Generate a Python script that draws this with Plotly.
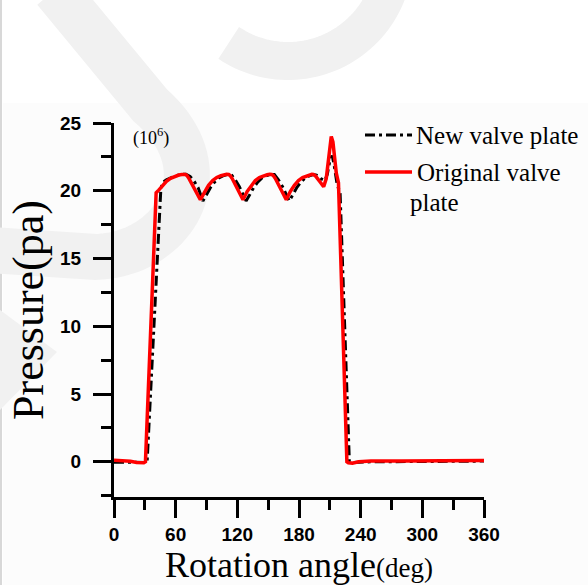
import numpy as np
import plotly.graph_objects as go

# ---- data: pressure (x10^6 Pa) against shaft rotation angle (deg) ----
new_angle = [0, 15, 25, 30, 32.2, 45.5, 47, 51, 55, 60, 65, 70, 74, 78, 82, 86.5,
             90, 94, 98, 102, 106, 110, 114, 118, 122, 128.5,
             132, 136, 140, 144, 148, 152, 156, 160, 164, 170.5,
             174, 178, 182, 186, 190, 194, 197, 201, 205, 207.5, 210, 212.2,
             214, 217, 220, 224.5, 229, 233, 250, 300, 360]
new_pressure = [-0.03, -0.05, -0.08, -0.1, -0.05, 20.0, 20.6, 20.8, 20.95, 21.1, 21.2, 21.22, 21.05, 20.7, 20.2, 19.25,
                19.7, 20.25, 20.65, 20.95, 21.1, 21.2, 21.2, 20.8, 20.3, 19.25,
                19.7, 20.25, 20.65, 20.95, 21.1, 21.2, 21.2, 20.8, 20.3, 19.25,
                19.7, 20.25, 20.65, 20.95, 21.1, 21.2, 21.15, 20.9, 20.75, 21.2, 22.2, 22.6,
                22.0, 20.5, 19.8, 10.5, 0.0, -0.05, 0.0, 0.02, 0.05]

orig_angle = [0, 8, 16, 22, 27, 29, 30.6, 41.0, 43.5, 47, 51, 55, 59, 63, 66, 68, 69.5, 71, 73, 84,
              88, 92, 96, 100, 104, 107, 109.5, 111.6, 113, 115, 125.5,
              129.5, 133.5, 137.5, 141.5, 145.5, 149, 151.5, 153.5, 155, 157, 167.6,
              171.5, 175.5, 179.5, 183.5, 187.5, 190.5, 192.5, 194, 196, 200, 204,
              206.5, 208.5, 210.2, 211.4, 213, 214.3, 216.3, 218.4, 222.5, 226.6,
              228, 232, 238, 250, 280, 320, 360]
orig_pressure = [0.12, 0.1, 0.04, -0.06, -0.1, -0.08, 0.0, 19.85, 20.05, 20.4, 20.7, 20.92, 21.07, 21.16, 21.2, 21.22, 21.2, 21.12, 20.9, 19.34,
                 19.94, 20.4, 20.75, 20.98, 21.11, 21.18, 21.21, 21.2, 21.12, 20.9, 19.34,
                 19.94, 20.4, 20.75, 20.98, 21.11, 21.18, 21.21, 21.2, 21.12, 20.9, 19.34,
                 19.94, 20.4, 20.75, 20.98, 21.11, 21.18, 21.21, 21.2, 21.1, 20.7, 20.3,
                 20.9, 22.2, 23.6, 24.0, 23.6, 22.4, 21.3, 20.6, 10.3, 0.0,
                 -0.08, -0.1, 0.0, 0.05, 0.06, 0.08, 0.1]

series_names = ["New valve plate", "Original valve plate"]
x_ticks = [0, 60, 120, 180, 240, 300, 360]
y_ticks = [0, 5, 10, 15, 20, 25]

# ---- page geometry ----
W, H = 588, 585
ML, MR, MT, MB = 114, 104, 123, 88
PW, PH = W - ML - MR, H - MT - MB


def px(x, y):
    """Page pixel -> paper coordinates."""
    return (x - ML) / PW, (H - MB - y) / PH


def path_from(points):
    pts = [px(x, y) for x, y in points]
    return "M " + " L ".join(f"{a:.5f},{b:.5f}" for a, b in pts)


SERIF = "Liberation Serif, Times New Roman, serif"
SANS = "Liberation Sans, Arial, sans-serif"

fig = go.Figure()
fig.add_trace(go.Scatter(
    x=new_angle, y=new_pressure, mode="lines", name=series_names[0],
    line=dict(color="black", width=3, dash="10px,4px,3px,4px"),
))
fig.add_trace(go.Scatter(
    x=orig_angle, y=orig_pressure, mode="lines", name=series_names[1],
    line=dict(color="#ff0000", width=3.5),
))

shapes = []
# faint page tint and left page edge
x0, y0 = px(3, 103)
x1, y1 = px(W, H)
shapes.append(dict(type="rect", xref="paper", yref="paper", x0=x0, y0=y0, x1=x1, y1=y1,
                   fillcolor="#fcfcfc", line=dict(width=0), layer="below"))
a0, b0 = px(1, 0)
a1, b1 = px(1, H)
shapes.append(dict(type="line", xref="paper", yref="paper", x0=a0, y0=b0, x1=a1, y1=b1,
                   line=dict(color="#d8d8d8", width=2), layer="below"))

# faint background emblem strokes
t = np.linspace(0, 1, 40)
p0, c1, c2, p3 = np.array([150, 105]), np.array([225, 170]), np.array([175, 255]), np.array([95, 257])
curve = ((1 - t) ** 3)[:, None] * p0 + (3 * (1 - t) ** 2 * t)[:, None] * c1 \
    + (3 * (1 - t) * t ** 2)[:, None] * c2 + (t ** 3)[:, None] * p3
stroke1 = [(55, -10)] + [tuple(p) for p in curve] + [(-10, 250)]
shapes.append(dict(type="path", xref="paper", yref="paper", path=path_from(stroke1),
                   line=dict(color="#f1f1f1", width=46), layer="below"))
ang = np.radians(np.linspace(124, -15, 60))
arc = [(288 + 106 * np.cos(a), -45 + 106 * np.sin(a)) for a in ang]
shapes.append(dict(type="path", xref="paper", yref="paper", path=path_from(arc),
                   line=dict(color="#f1f1f1", width=38), layer="below"))
shapes.append(dict(type="path", xref="paper", yref="paper",
                   path=path_from([(0, 310), (57, 352), (0, 410)]) + " Z",
                   fillcolor="#f1f1f1", line=dict(width=0), layer="below"))

# legend samples
for (xa, xb, yy), col, dash, w in [((365, 412, 135), "black", "10px,4px,3px,4px", 3),
                                   ((365, 412, 172), "#ff0000", "solid", 3.5)]:
    u0, v0 = px(xa, yy)
    u1, _ = px(xb, yy)
    shapes.append(dict(type="line", xref="paper", yref="paper", x0=u0, y0=v0, x1=u1, y1=v0,
                       line=dict(color=col, width=w, dash=dash)))

annotations = []
for text, (x, y), size in [(series_names[0], (414, 135), 25),
                           ("Original valve", (415, 172), 25),
                           ("plate", (408, 202), 25),
                           ("(10<sup>6</sup>)", (131, 137), 18)]:
    ax, ay = px(x, y)
    annotations.append(dict(text=text, x=ax, y=ay, xref="paper", yref="paper",
                            xanchor="left", yanchor="middle", showarrow=False,
                            font=dict(family=SERIF, size=size, color="black")))

axis_common = dict(
    showline=True, linecolor="black", linewidth=3, mirror=False,
    showgrid=False, zeroline=False,
    ticks="outside", ticklen=18, tickwidth=3, tickcolor="black",
    tickfont=dict(family=SANS, size=19, color="black", weight="bold"),
)

fig.update_layout(
    width=W, height=H,
    margin=dict(l=ML, r=MR, t=MT, b=MB, pad=0),
    paper_bgcolor="white", plot_bgcolor="rgba(0,0,0,0)",
    showlegend=False,
    shapes=shapes, annotations=annotations,
    xaxis=dict(range=[0, 360], tickvals=x_ticks,
               minor=dict(dtick=30, tick0=0, ticks="outside", ticklen=10, tickwidth=3, tickcolor="black"),
               title=dict(text="Rotation angle<span style='font-size:27px'>(deg)</span>",
                          font=dict(family=SERIF, size=36, color="black"), standoff=4),
               **axis_common),
    yaxis=dict(range=[-2.6, 25], tickvals=y_ticks, ticklabelstandoff=8,
               minor=dict(dtick=2.5, tick0=0, ticks="outside", ticklen=10, tickwidth=3, tickcolor="black"),
               title=dict(text="Pressure(pa)", font=dict(family=SERIF, size=44, color="black"), standoff=3),
               **axis_common),
)

fig.write_html("out.html")
